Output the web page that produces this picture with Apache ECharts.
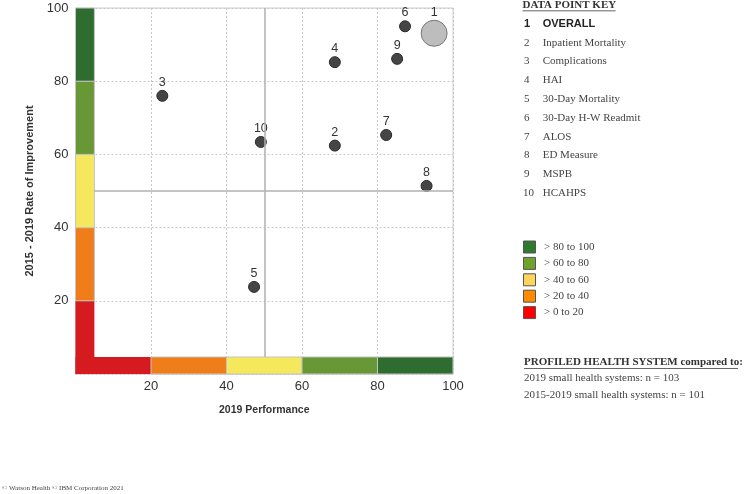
<!DOCTYPE html>
<html><head><meta charset="utf-8">
<script src="https://cdn.jsdelivr.net/npm/echarts@6/dist/echarts.min.js"></script>
<style>html,body{margin:0;padding:0;background:#fff}#c{width:753px;height:494px}</style>
</head><body><div id="c"></div>
<script>
// ---- data ----
const metricIds = [1, 2, 3, 4, 5, 6, 7, 8, 9, 10];
const metricNames = ['OVERALL', 'Inpatient Mortality', 'Complications', 'HAI', '30-Day Mortality',
  '30-Day H-W Readmit', 'ALOS', 'ED Measure', 'MSPB', 'HCAHPS'];
const performance2019 = [95, 68.7, 23, 68.7, 47.3, 87.3, 82.3, 93, 85.2, 49.1];
const improvement = [93.1, 62.4, 76, 85.2, 23.8, 95, 65.3, 51.4, 86.1, 63.4];
const bandEdges = [0, 20, 40, 60, 80, 100];
const bandColors = ['#d51b1f', '#ef7e1a', '#f6e85c', '#689835', '#2e6d2f'];
const legendLabels = ['> 80 to 100', '> 60 to 80', '> 40 to 60', '> 20 to 40', '> 0 to 20'];
const legendColors = ['#2e7a2e', '#6ea22a', '#fdd45c', '#ff8c00', '#ff0000'];
const xTicks = [20, 40, 60, 80, 100];
const yTicks = [20, 40, 60, 80, 100];
const midX = 50, midY = 50;
const comparisonLines = ['2019 small health systems: n = 103', '2015-2019 small health systems: n = 101'];

// ---- style constants ----
const BAND_W = 5, BAND_H = 4.65;
const SERIF = '"Liberation Serif", "Times New Roman", serif';
const SANS = '"Liberation Sans", Arial, sans-serif';

const chart = echarts.init(document.getElementById('c'));

const areas = [];
for (let i = 0; i < bandColors.length; i++) {
  const red = i === 0;
  const st = { color: bandColors[i], borderColor: red ? bandColors[i] : '#c4c4c4', borderWidth: red ? 0 : 1, opacity: 1 };
  areas.push([{ coord: [0, bandEdges[i]], itemStyle: st }, { coord: [BAND_W, bandEdges[i + 1]] }]);
  areas.push([{ coord: [bandEdges[i], 0], itemStyle: st }, { coord: [bandEdges[i + 1], BAND_H] }]);
}
const markLines = [
  [{ coord: [midX, BAND_H] }, { coord: [midX, 100] }],
  [{ coord: [BAND_W, midY] }, { coord: [100, midY] }]
];

const pts = metricIds.map((id, i) => ({
  value: [performance2019[i], improvement[i], id],
  symbolSize: i === 0 ? 26 : 11,
  itemStyle: i === 0 ? { color: '#bdbdbd', borderColor: '#777', borderWidth: 1, opacity: 1 }
                     : { color: '#454545', borderColor: '#2a2a2a', borderWidth: 1, opacity: 1 }
}));

const graphics = [];
graphics.push({ type: 'text', x: 522.5, y: 5, style: { text: 'DATA POINT KEY', font: 'bold 11px ' + SERIF, fill: '#333', verticalAlign: 'middle' } });
graphics.push({ type: 'rect', shape: { x: 522.5, y: 10.5, width: 93, height: 0.8 }, style: { fill: '#333' } });
metricIds.forEach((id, i) => {
  const y = 24 + i * 18.8;
  const bold = i === 0;
  graphics.push({ type: 'text', x: id >= 10 ? 523 : 524, y: y, style: { text: String(id), font: (bold ? 'bold 11px ' + SANS : '11px ' + SERIF), fill: bold ? '#222' : '#444', verticalAlign: 'middle' } });
  graphics.push({ type: 'text', x: 542.7, y: y, style: { text: metricNames[i], font: (bold ? 'bold 11px ' + SANS : '11px ' + SERIF), fill: bold ? '#222' : '#444', verticalAlign: 'middle' } });
});
legendLabels.forEach((lab, i) => {
  const cy = 247 + i * 16.4;
  graphics.push({ type: 'rect', shape: { x: 523.5, y: cy - 6, width: 12, height: 12 }, style: { fill: legendColors[i], stroke: '#555', lineWidth: 1 } });
  graphics.push({ type: 'text', x: 544, y: cy, style: { text: lab, font: '11px ' + SERIF, fill: '#444', verticalAlign: 'middle' } });
});
graphics.push({ type: 'text', x: 524, y: 362.5, style: { text: 'PROFILED HEALTH SYSTEM compared to:', font: 'bold 11px ' + SERIF, fill: '#333', verticalAlign: 'middle' } });
graphics.push({ type: 'rect', shape: { x: 524, y: 368, width: 214, height: 0.8 }, style: { fill: '#333' } });
comparisonLines.forEach((t, i) => {
  graphics.push({ type: 'text', x: 524, y: 378.5 + i * 17, style: { text: t, font: '11px ' + SERIF, fill: '#444', verticalAlign: 'middle' } });
});
graphics.push({ type: 'text', x: 2, y: 488, style: { text: '© Watson Health © IBM Corporation 2021', font: '7px ' + SERIF, fill: '#444', verticalAlign: 'middle' } });

const tickFmt = (ticks) => (v) => ticks.includes(v) ? String(v) : '';

chart.setOption({
  animation: false,
  grid: { left: 75.5, right: 300, top: 8, bottom: 120, show: true, borderColor: '#cccccc', borderWidth: 1, backgroundColor: 'rgba(0,0,0,0)' },
  xAxis: {
    type: 'value', min: 0, max: 100, interval: 20,
    axisLine: { show: false }, axisTick: { show: false },
    splitLine: { show: true, lineStyle: { type: [2, 2], color: '#c8c8c8', width: 1 } },
    axisLabel: { formatter: tickFmt(xTicks), color: '#333', fontSize: 13, fontFamily: SANS, margin: 6 },
    name: '2019 Performance', nameLocation: 'middle', nameGap: 31,
    nameTextStyle: { fontWeight: 'bold', fontSize: 10.5, color: '#333', fontFamily: SANS }
  },
  yAxis: {
    type: 'value', min: 0, max: 100, interval: 20,
    axisLine: { show: false }, axisTick: { show: false },
    splitLine: { show: true, lineStyle: { type: [2, 2], color: '#c8c8c8', width: 1 } },
    axisLabel: { formatter: tickFmt(yTicks), color: '#333', fontSize: 13, fontFamily: SANS, margin: 7 },
    name: '2015 - 2019 Rate of Improvement', nameLocation: 'middle', nameGap: 33,
    nameTextStyle: { fontWeight: 'bold', fontSize: 11, color: '#333', fontFamily: SANS }
  },
  series: [
    {
      type: 'line', data: [], z: 1, silent: true,
      markArea: { silent: true, data: areas },
      markLine: { silent: true, symbol: 'none', label: { show: false },
        lineStyle: { color: '#b0b0b0', width: 1.5, type: 'solid' }, data: markLines }
    },
    {
      type: 'scatter', z: 3, data: pts,
      label: { show: true, position: 'top', distance: 1, formatter: (p) => String(p.value[2]),
        color: '#333', fontSize: 12.5, fontFamily: SANS }
    }
  ],
  graphic: graphics
});
</script></body></html>
